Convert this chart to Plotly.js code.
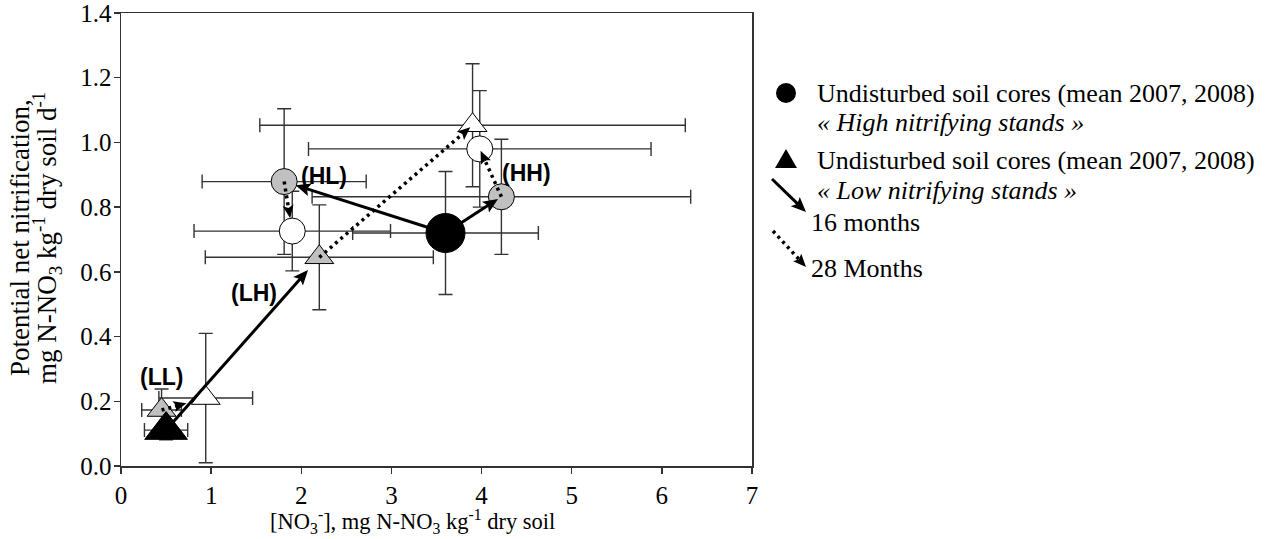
<!DOCTYPE html>
<html><head><meta charset="utf-8">
<script src="https://cdn.plot.ly/plotly-3.0.1.min.js"></script>
<style>html,body{margin:0;padding:0;background:#fff;}#chart{width:1267px;height:539px;}</style>
</head><body><div id="chart"></div>
<script>
// Stand groups: order used in every "months" array below
const standGroups = ['HH', 'HL', 'LH', 'LL'];
// Undisturbed soil cores (mean 2007, 2008): [High nitrifying, Low nitrifying]
const undistNO3 = [3.60, 0.50];
const undistNO3Err = [1.03, 0.24];
const undistNitr = [0.72, 0.111];
const undistNitrErr = [0.19, 0.03];
// index of the undisturbed origin for each stand group
const groupOrigin = [0, 0, 1, 1];
// After 16 months (grey symbols)
const m16NO3 = [4.22, 1.81, 2.20, 0.45];
const m16NO3Err = [2.10, 0.91, 1.265, 0.22];
const m16Nitr = [0.832, 0.879, 0.645, 0.173];
const m16NitrErr = [0.178, 0.225, 0.162, 0.065];
// After 28 months (white symbols)
const m28NO3 = [3.98, 1.90, 3.90, 0.94];
const m28NO3Err = [1.90, 1.09, 2.36, 0.52];
const m28Nitr = [0.98, 0.726, 1.053, 0.21];
const m28NitrErr = [0.18, 0.123, 0.19, 0.20];
// Tick values
const xTicks = [0, 1, 2, 3, 4, 5, 6, 7];
const yTicks = [0, 0.2, 0.4, 0.6, 0.8, 1.0, 1.2, 1.4];

const W = 1267, H = 539;
const M = {l: 121, r: 515, t: 13, b: 73};
const PW = W - M.l - M.r, PH = H - M.t - M.b;
const xRange = [0, 7], yRange = [0, 1.4];
const kx = PW / (xRange[1] - xRange[0]);
const ky = PH / (yRange[1] - yRange[0]);
const serif = 'Liberation Serif';
const sans = 'Liberation Sans';
const errColor = '#333333';

function pick(arr, idx) { return idx.map(i => arr[i]); }
const hiIdx = [0, 1], loIdx = [2, 3];

function errTrace(x, y, ex, ey) {
  return {
    type: 'scatter', mode: 'markers', x: x, y: y,
    marker: {size: 1, opacity: 0},
    error_x: {type: 'data', array: ex, visible: true, color: errColor, thickness: 1.4, width: 7},
    error_y: {type: 'data', array: ey, visible: true, color: errColor, thickness: 1.4, width: 7},
    hoverinfo: 'skip', showlegend: false
  };
}
function markTrace(name, x, y, symbol, size, fill) {
  return {
    type: 'scatter', mode: 'markers', name: name, x: x, y: y,
    marker: {symbol: symbol, size: size, color: fill, line: {color: '#000', width: 1}},
    showlegend: false
  };
}

const traces = [
  errTrace(undistNO3, undistNitr, undistNO3Err, undistNitrErr),
  errTrace(m16NO3, m16Nitr, m16NO3Err, m16NitrErr),
  errTrace(m28NO3, m28Nitr, m28NO3Err, m28NitrErr),
  markTrace('28 months, high', pick(m28NO3, hiIdx), pick(m28Nitr, hiIdx), 'circle', 26, '#ffffff'),
  markTrace('28 months, low', pick(m28NO3, loIdx), pick(m28Nitr, loIdx), 'triangle-up', 25, '#ffffff'),
  markTrace('16 months, high', pick(m16NO3, hiIdx), pick(m16Nitr, hiIdx), 'circle', 26, '#c0c0c0'),
  markTrace('16 months, low', pick(m16NO3, loIdx), pick(m16Nitr, loIdx), 'triangle-up', 25, '#c0c0c0'),
  markTrace('Undisturbed, high', [undistNO3[0]], [undistNitr[0]], 'circle', 39, '#000000'),
  markTrace('Undisturbed, low', [undistNO3[1]], [undistNitr[1]], 'triangle-up', 37, '#000000')
];

const shapes = [];
const annotations = [];

// Arrow built from shapes: shaft (solid or dotted line) + filled arrowhead path in pixel units.
function arrow(ref, x0, y0, x1, y1, standoff, dotted, hl, hw) {
  const xr = ref === 'data' ? 'x' : 'paper', yr = ref === 'data' ? 'y' : 'paper';
  const sx = ref === 'data' ? kx : PW, sy = ref === 'data' ? ky : PH;
  const dx = (x1 - x0) * sx, dy = (y1 - y0) * sy;
  const L = Math.hypot(dx, dy);
  const ux = dx / L, uy = dy / L, nx = -uy, ny = ux;
  const cut = standoff + hl * 0.75;
  shapes.push({
    type: 'line', xref: xr, yref: yr, layer: 'above',
    x0: x0, y0: y0, x1: x1 - ux * cut / sx, y1: y1 - uy * cut / sy,
    line: dotted ? {color: '#000', width: 3.5, dash: '3px,4px'} : {color: '#000', width: 3}
  });
  const tx = -ux * standoff, ty = -uy * standoff;
  const bx = tx - ux * hl, by = ty - uy * hl;
  const kxn = tx - ux * hl * 0.8, kyn = ty - uy * hl * 0.8;
  const f = v => v.toFixed(2);
  shapes.push({
    type: 'path', xref: xr, yref: yr, layer: 'above',
    xsizemode: 'pixel', ysizemode: 'pixel', xanchor: x1, yanchor: y1,
    path: 'M ' + f(tx) + ' ' + f(ty) +
      ' L ' + f(bx + nx * hw) + ' ' + f(by + ny * hw) +
      ' L ' + f(kxn) + ' ' + f(kyn) +
      ' L ' + f(bx - nx * hw) + ' ' + f(by - ny * hw) + ' Z',
    fillcolor: '#000', line: {width: 0}
  });
}

// 16-month (solid) arrows: undisturbed -> 16 months
const solidStandoff = [4, 12, 17, null];
standGroups.forEach((g, i) => {
  if (solidStandoff[i] === null) return; // hidden under the symbols in the original
  const o = groupOrigin[i];
  arrow('data', undistNO3[o], undistNitr[o], m16NO3[i], m16Nitr[i], solidStandoff[i], false, 15, 6.5);
});
// 28-month (dotted) arrows: 16 months -> 28 months
const dottedStandoff = [2, 13, 3, 20];
standGroups.forEach((g, i) => {
  arrow('data', m16NO3[i], m16Nitr[i], m28NO3[i], m28Nitr[i], dottedStandoff[i], true, 13, 5.5);
});

// group labels
const labelPos = {HH: [4.50, 0.905], HL: [2.25, 0.895], LH: [1.475, 0.535], LL: [0.445, 0.275]};
standGroups.forEach(g => {
  annotations.push({
    x: labelPos[g][0], y: labelPos[g][1], xref: 'x', yref: 'y', showarrow: false,
    text: '<b>(' + g + ')</b>', font: {family: sans, size: 23, color: '#000'},
    xanchor: 'center', yanchor: 'middle'
  });
});

// ---- manual legend (paper coordinates derived from pixel positions) ----
function px(xp) { return (xp - M.l) / PW; }
function py(yp) { return (M.t + PH - yp) / PH; }
shapes.push({type: 'circle', xref: 'paper', yref: 'paper', xsizemode: 'pixel', ysizemode: 'pixel',
  xanchor: px(786), yanchor: py(93), x0: -10, x1: 10, y0: -10, y1: 10,
  fillcolor: '#000', line: {width: 0}});
shapes.push({type: 'path', xref: 'paper', yref: 'paper', xsizemode: 'pixel', ysizemode: 'pixel',
  xanchor: px(786), yanchor: py(160), path: 'M -11 -8 L 11 -8 L 0 11 Z',
  fillcolor: '#000', line: {width: 0}});
arrow('paper', px(772), py(179), px(806), py(212), 0, false, 15, 6.5);
arrow('paper', px(773), py(231), px(806), py(267), 0, true, 13, 5.5);

const legendText = [
  [815, 93, 'Undisturbed soil cores (mean 2007, 2008)'],
  [815, 122, '<i>« High nitrifying stands »</i>'],
  [815, 160, 'Undisturbed soil cores (mean 2007, 2008)'],
  [815, 190, '<i>« Low nitrifying stands »</i>'],
  [809, 222, '16 months'],
  [809, 268, '28 Months']
];
legendText.forEach(t => annotations.push({
  x: px(t[0]), y: py(t[1]), xref: 'paper', yref: 'paper', showarrow: false,
  text: t[2], xanchor: 'left', yanchor: 'middle', font: {family: serif, size: 26, color: '#000'}
}));

// y-axis title, two tightly spaced lines
const yTitleLines = [
  [20, 'Potential net nitrification,'],
  [47, 'mg N-NO<sub>3</sub> kg<sup>-1</sup> dry soil d<sup>-1</sup>']
];
yTitleLines.forEach(t => annotations.push({
  x: px(t[0]), y: py(238), xref: 'paper', yref: 'paper', showarrow: false, textangle: -90,
  text: t[1], xanchor: 'center', yanchor: 'middle', font: {family: serif, size: 27, color: '#000'}
}));
// x-axis title
annotations.push({
  x: px(412), y: py(521), xref: 'paper', yref: 'paper', showarrow: false,
  text: '[NO<sub>3</sub><sup>-</sup>], mg N-NO<sub>3</sub> kg<sup>-1</sup> dry soil',
  xanchor: 'center', yanchor: 'middle', font: {family: serif, size: 22.5, color: '#000'}
});

const axisCommon = {
  showline: true, linecolor: '#333', linewidth: 1.5, mirror: true,
  ticks: 'outside', ticklen: 6, tickcolor: '#333', tickwidth: 1.5,
  showgrid: false, zeroline: false, ticklabeloverflow: 'allow',
  tickfont: {family: serif, size: 25, color: '#000'}
};
const layout = {
  width: W, height: H, margin: M,
  paper_bgcolor: '#fff', plot_bgcolor: '#fff', showlegend: false,
  xaxis: Object.assign({}, axisCommon, {
    range: xRange, tickvals: xTicks, ticktext: xTicks.map(String)
  }),
  yaxis: Object.assign({}, axisCommon, {
    range: yRange, tickvals: yTicks, ticktext: yTicks.map(v => v.toFixed(1)),
    ticklabelstandoff: -3
  }),
  shapes: shapes, annotations: annotations
};
Plotly.newPlot('chart', traces, layout, {staticPlot: true, displayModeBar: false});
</script>
</body></html>
